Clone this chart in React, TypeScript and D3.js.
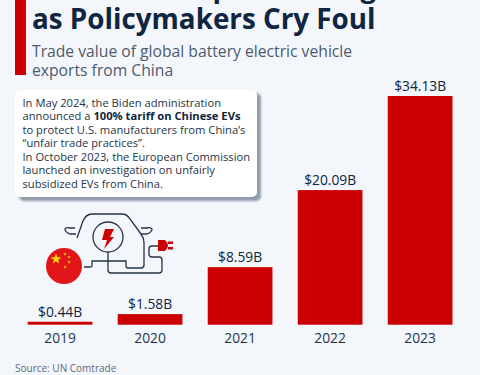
import React from "react";
import * as d3 from "d3";

const years = ["2019", "2020", "2021", "2022", "2023"];
const values = [0.44, 1.58, 8.59, 20.09, 34.13];
const valueLabels = ["$0.44B", "$1.58B", "$8.59B", "$20.09B", "$34.13B"];
const noteLines = [
  [["In May 2024, the Biden administration", false]],
  [["announced a ", false], ["100% tariff on Chinese EVs", true]],
  [["to protect U.S. manufacturers from China\u2019s", false]],
  [["\u201Cunfair trade practices\u201D.", false]],
  [["In October 2023, the European Commission", false]],
  [["launched an investigation on unfairly", false]],
  [["subsidized EVs from China.", false]],
] as [string, boolean][][];

const W = 480, H = 375;
const FONT = "'Open Sans', sans-serif";
const NAVY = "#0f2540", RED = "#cc0000", TEXT = "#243447";

export default function App() {
  const x = d3.scaleBand().domain(years).range([27.7, 452.5]).paddingInner(0.281).paddingOuter(0);
  const y = d3.scaleLinear().domain([0, 34.13]).range([324.7, 96]);
  const star = (cx: number, cy: number, r: number) =>
    d3.range(10).map(i => {
      const a = -Math.PI / 2 + (i * Math.PI) / 5, q = i % 2 ? r * 0.4 : r;
      return `${cx + q * Math.cos(a)},${cy + q * Math.sin(a)}`;
    }).join(" ");
  return (
    <svg width={W} height={H} style={{ position: "fixed", left: 0, top: 0, display: "block" }} fontFamily={FONT}>
      <defs>
        <filter id="sh" x="-5%" y="-5%" width="110%" height="115%"><feGaussianBlur stdDeviation="1" /></filter>
      </defs>
      <rect width={W} height={H} fill="#f3f6fb" />
      <rect x={15} y={0} width={11} height={75} fill={RED} />
      <text x={32} y={-3} fontSize={27.8} fontWeight={700} fill={NAVY}>China&apos;s EV Exports Rising</text>
      <text x={32} y={29} fontSize={27.8} fontWeight={700} fill={NAVY}>as Policymakers Cry Foul</text>
      <text x={32} y={56.5} fontSize={15.7} fill="#4d5b6e">Trade value of global battery electric vehicle</text>
      <text x={32} y={75.5} fontSize={15.7} fill="#4d5b6e">exports from China</text>

      <rect x={19} y={93} width={242} height={108} rx={5} fill="#8f9cad" filter="url(#sh)" />
      <rect x={15} y={90} width={242} height={107} rx={5} fill="#ffffff" />
      {noteLines.map((line, i) => (
        <text key={i} x={22.5} y={106.7 + i * 13.55} fontSize={11.2} fill={TEXT}>
          {line.map(([t, b], j) => <tspan key={j} fontWeight={b ? 700 : 400} fill={b ? NAVY : TEXT}>{t}</tspan>)}
        </text>
      ))}

      <g fill="none" stroke="#243447" strokeWidth={1.3}>
        <path d="M77 238 L83 221 Q86 214 92 214 H122 Q127 214 130 219 L141 234 Q144 238 144 243 V265 Q144 268 141 268 H128 Q126 268 126 266 V261 H92 V266 Q92 267 90 267 H84" />
        <path d="M76 234 H70 Q65 232 65 229 Q66 227 70 228 H75" />
        <path d="M141 234 H147 Q152 232 152 229 Q151 227 147 228 H141" />
        <circle cx={108} cy={237} r={15} />
        <path d="M108 252 V270 Q108 273 111 273 H159 Q162 273 162 270 V260 Q162 257 159 257 H152 Q149 257 149 254 V249 Q149 246 152 246 H158" />
      </g>
      <path d="M105 229 H114 L110 237 H114 L104 249 L107 240 H102 Z" fill={RED} />
      <path d="M158 240 H165 Q168 243 168 245.5 Q168 248 165 251 H158 Z M168 241.5 H173 V244 H168 Z M168 247 H173 V249.5 H168 Z" fill={RED} />
      <circle cx={64} cy={266} r={18} fill="#e0161b" />
      <polygon points={star(56, 259, 5.5)} fill="#ffde00" />
      {[[65, 254], [69, 257], [69, 262], [65, 267]].map(([a, b], i) => (
        <polygon key={i} points={star(a, b, 1.8)} fill="#ffde00" />
      ))}

      {years.map((yr, i) => {
        const cx = x(yr)! + x.bandwidth() / 2;
        return (
          <g key={yr}>
            <rect x={x(yr)} y={y(values[i])} width={x.bandwidth()} height={y(0) - y(values[i])} fill={RED} />
            <text x={cx} y={y(values[i]) - 5} textAnchor="middle" fontSize={13.8} fontWeight={500} fill={NAVY}>{valueLabels[i]}</text>
            <text x={cx} y={342.7} textAnchor="middle" fontSize={13.8} fill={TEXT}>{yr}</text>
          </g>
        );
      })}
      <text x={15} y={372} fontSize={10} fill="#5c6a7c">Source: UN Comtrade</text>
    </svg>
  );
}
